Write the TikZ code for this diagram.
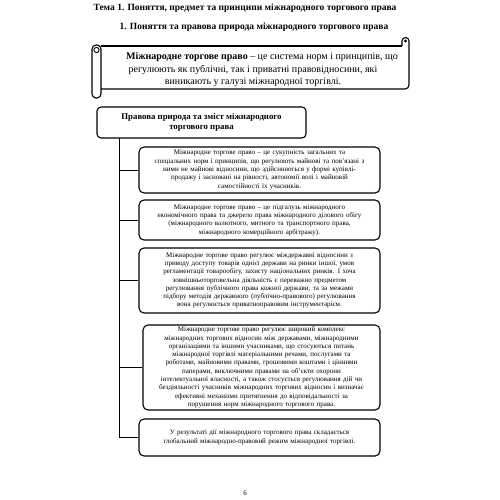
\documentclass[tikz,border=0pt]{standalone}
\usepackage{fontspec}
\setmainfont{Liberation Serif}

\tikzset{
  headbox/.style={draw,line width=1.1pt,rounded corners=4pt,align=center,
    font=\bfseries\fontsize{8.8}{10}\selectfont,minimum width=209pt,minimum height=31pt},
  infobox/.style={draw,line width=1.1pt,rounded corners=5pt,align=center,
    font=\fontsize{7}{8.3}\selectfont,inner sep=1pt,text width=232pt,minimum width=241pt},
  scrollline/.style={line width=1.1pt},
  link/.style={line width=0.9pt}
}

\begin{document}
\begin{tikzpicture}[x=1pt,y=-1pt]
  \useasboundingbox (0,0) rectangle (500,500);
  % headings
  \node[font=\bfseries\fontsize{9.5}{11}\selectfont] (title) at (245,8)
    {Тема 1. Поняття, предмет та принципи міжнародного торгового права};
  \node[font=\bfseries\fontsize{9.5}{11}\selectfont] (subtitle) at (254,27)
    {1. Поняття та правова природа міжнародного торгового права};
  % scroll with the definition
  \draw[scrollline] (101,46) -- (402,46);
  \draw[scrollline] (402,46) -- (402,41) arc(180:360:3.5) -- (409,85)
        arc(0:90:4) -- (101,89);
  \fill (405.5,41) circle (1.6);
  \draw[scrollline,rounded corners=4pt,fill=white] (92,45) rectangle (101,98);
  \draw[line width=0.9pt] (96.5,50) circle (2.6);
  \node[align=center,font=\fontsize{10}{12.5}\selectfont] (def) at (253,70)
    {\hspace*{18pt}\textbf{Міжнародне торгове право} – це система норм і принципів, що\\
     регулюють як публічні, так і приватні правовідносини, які\\
     виникають у галузі міжнародної торгівлі.};
  % tree
  \node[headbox] (head) at (201.5,122.5)
    {Правова природа та зміст міжнародного\\торгового права};
  \node[infobox,minimum height=46pt] (b1) at (259.5,170)
    {Міжнародне торгове право –  це сукупність загальних та\\
     спеціальних норм і принципів, що регулюють майнові та пов’язані з\\
     ними не майнові відносини, що здійснюються у формі купівлі-\\
     продажу і засновані на рівності, автономії волі і майновій\\
     самостійності їх учасників.};
  \node[infobox,minimum height=40pt] (b2) at (259.5,220)
    {Міжнародне торгове право  –  це підгалузь міжнародного\\
     економічного права та джерело права міжнародного ділового обігу\\
     (міжнародного валютного, митного та транспортного права,\\
     міжнародного комерційного арбітражу).};
  \node[infobox,minimum height=65pt] (b3) at (259.5,280.5)
    {Міжнародне торгове право регулює міждержавні відносини з\\
     приводу доступу товарів однієї держави на ринки іншої, умов\\
     регламентації товарообігу, захисту національних ринків.  І хоча\\
     зовнішньоторговельна діяльність є переважно предметом\\
     регулювання публічного права кожної держави,  та за межами\\
     підбору методів державного (публічно-правового) регулювання\\
     вона регулюється  приватноправовим  інструментарієм.};
  \node[infobox,minimum height=85pt,minimum width=237pt] (b4) at (261.5,367.5)
    {Міжнародне торгове право регулює широкий комплекс\\
     міжнародних торгових відносин між державами, міжнародними\\
     організаціями та іншими учасниками, що стосуються питань\\
     міжнародної торгівлі матеріальними речами, послугами та\\
     роботами, майновими правами, грошовими коштами і цінними\\
     паперами, виключними правами на об’єкти охорони\\
     інтелектуальної власності, а також стосується регулювання дій чи\\
     бездіяльності учасників міжнародних торгових відносин і визначає\\
     ефективні механізми притягнення до відповідальності за\\
     порушення норм міжнародного торгового права.};
  \node[infobox,minimum height=37pt] (b5) at (259.5,437.5)
    {У результаті  дії міжнародного торгового права складається\\
     глобальний міжнародно-правовий режим  міжнародної торгівлі.};
  % connectors
  \coordinate (spine) at (119,138);
  \draw[link] (spine) |- (b5.west);
  \foreach \b in {b1,b2,b3,b4}
    \draw[link] (spine |- \b.west) -- (\b.west);
  % page number
  \node[font=\fontsize{7}{8}\selectfont] (page) at (245,493) {6};
\end{tikzpicture}
\end{document}
